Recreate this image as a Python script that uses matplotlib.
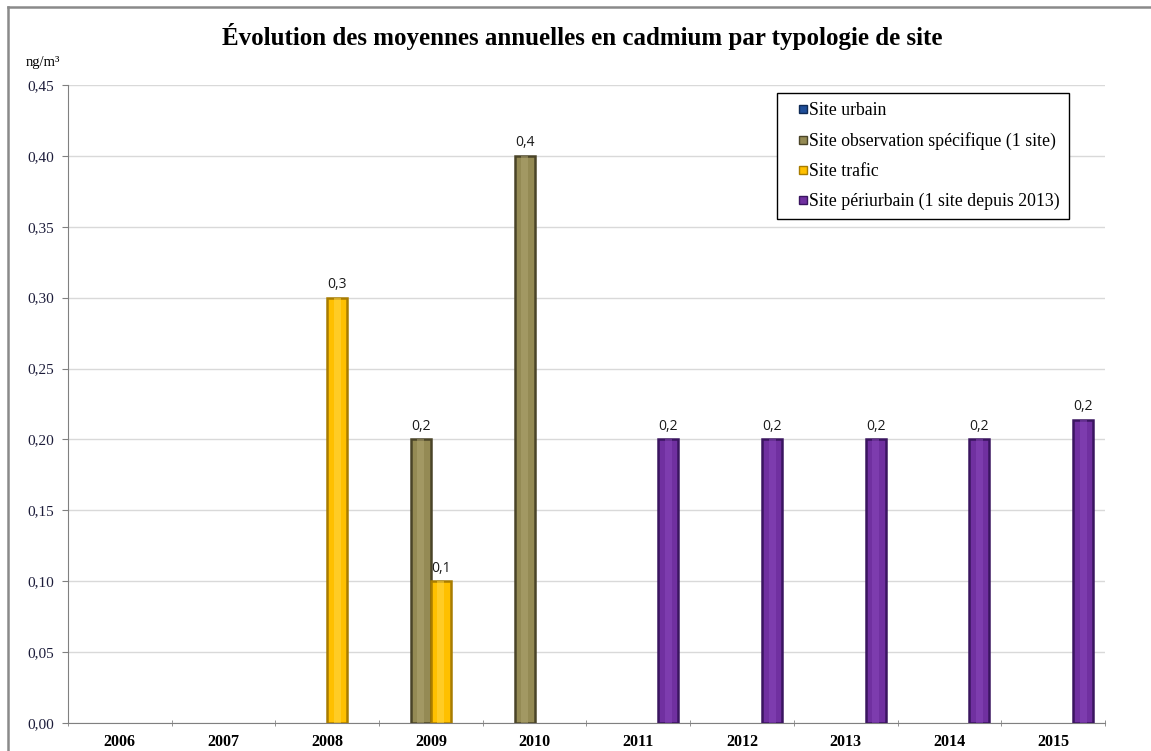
import matplotlib
matplotlib.use("Agg")
import matplotlib.pyplot as plt
from matplotlib.lines import Line2D
import numpy as np

years = ["2006", "2007", "2008", "2009", "2010", "2011", "2012", "2013", "2014", "2015"]
series_names = ["Site urbain",
                "Site observation spécifique (1 site)",
                "Site trafic",
                "Site périurbain (1 site depuis 2013)"]
nan = np.nan
urbain = [nan, nan, nan, nan, nan, nan, nan, nan, nan, nan]
observation = [nan, nan, nan, 0.2, 0.4, nan, nan, nan, nan, nan]
trafic = [nan, nan, 0.3, 0.1, nan, nan, nan, nan, nan, nan]
periurbain = [nan, nan, nan, nan, nan, 0.2, 0.2, 0.2, 0.2, 0.214]
yticks = [0.0, 0.05, 0.10, 0.15, 0.20, 0.25, 0.30, 0.35, 0.40, 0.45]

faces = ["#1F4E99", "#948A54", "#FFC000", "#7030A0"]
edges = ["#0F2A55", "#4A4428", "#A87C00", "#3A1560"]
lights = ["#4F7EC9", "#B0A672", "#FFD84A", "#8A48BC"]

fig = plt.figure(figsize=(11.51, 7.51), dpi=100)
ax = fig.add_axes([0.0591, 0.0373, 0.9009, 0.8495])

x = np.arange(len(years))
w = 0.193
all_series = [urbain, observation, trafic, periurbain]
for i, vals in enumerate(all_series):
    vals = np.array(vals, dtype=float)
    pos = x + (i - 1.5) * w
    ax.bar(pos, vals, width=w, color=faces[i], edgecolor=edges[i], linewidth=1.8, zorder=3)
    # lighter band in the middle, for the rounded look of the original bars
    ax.bar(pos, vals, width=w * 0.35, color=lights[i], linewidth=0, alpha=0.5, zorder=4)
    for p, v in zip(pos, vals):
        if not np.isnan(v):
            ax.annotate(f"{v:.1f}".replace(".", ","), (p, v), xytext=(0, 4),
                        textcoords="offset points", ha="center", va="bottom",
                        fontsize=10, family="Open Sans", color="#1a1a1a")

ax.set_xlim(-0.5, len(years) - 0.5)
ax.set_ylim(0, 0.45)
ax.set_yticks(yticks)
ax.set_yticklabels([f"{t:.2f}".replace(".", ",") for t in yticks],
                   family="Liberation Serif", fontsize=11, color="#1c1c3a")
ax.yaxis.grid(True, color="#D9D9D9", linewidth=1, zorder=0)
ax.set_axisbelow(True)

ax.set_xticks(x)
ax.set_xticklabels(years, family="Liberation Serif", fontsize=11.5, fontweight="bold")
ax.set_xticks(np.arange(-0.5, len(years)), minor=True)
ax.tick_params(axis="x", which="major", length=0, pad=8)
ax.tick_params(axis="x", which="minor", length=5, direction="inout", color="#808080")
ax.tick_params(axis="y", length=4, color="#808080", pad=6)

for s in ["top", "right"]:
    ax.spines[s].set_visible(False)
for s in ["left", "bottom"]:
    ax.spines[s].set_color("#808080")

handles = [Line2D([], [], linestyle="none", marker="s", markersize=6,
                  markerfacecolor=faces[i], markeredgecolor=edges[i]) for i in range(4)]
leg = ax.legend(handles, series_names, loc="upper left", bbox_to_anchor=(0.684, 0.987),
                borderaxespad=0, frameon=True, fancybox=False, edgecolor="black",
                framealpha=1, prop={"family": "Liberation Serif", "size": 12.8},
                handlelength=1.92, handletextpad=-0.62, labelspacing=0.72,
                borderpad=0.5, numpoints=1)
leg.get_frame().set_linewidth(1.0)

fig.text(0.506, 0.951, "Évolution des moyennes annuelles en cadmium par typologie de site",
         ha="center", va="center", family="Liberation Serif", fontweight="bold", fontsize=18)
fig.text(0.022, 0.917, "ng/m³", ha="left", va="center", family="Liberation Serif", fontsize=10.5)

# outer frame of the original picture
fig.add_artist(Line2D([8 / 1151, 8 / 1151], [0, 1 - 7 / 751], transform=fig.transFigure,
                      color="#8a8a8a", linewidth=1.8))
fig.add_artist(Line2D([8 / 1151, 1], [1 - 7 / 751, 1 - 7 / 751], transform=fig.transFigure,
                      color="#8a8a8a", linewidth=1.8))

fig.savefig("out.png", dpi=100)
